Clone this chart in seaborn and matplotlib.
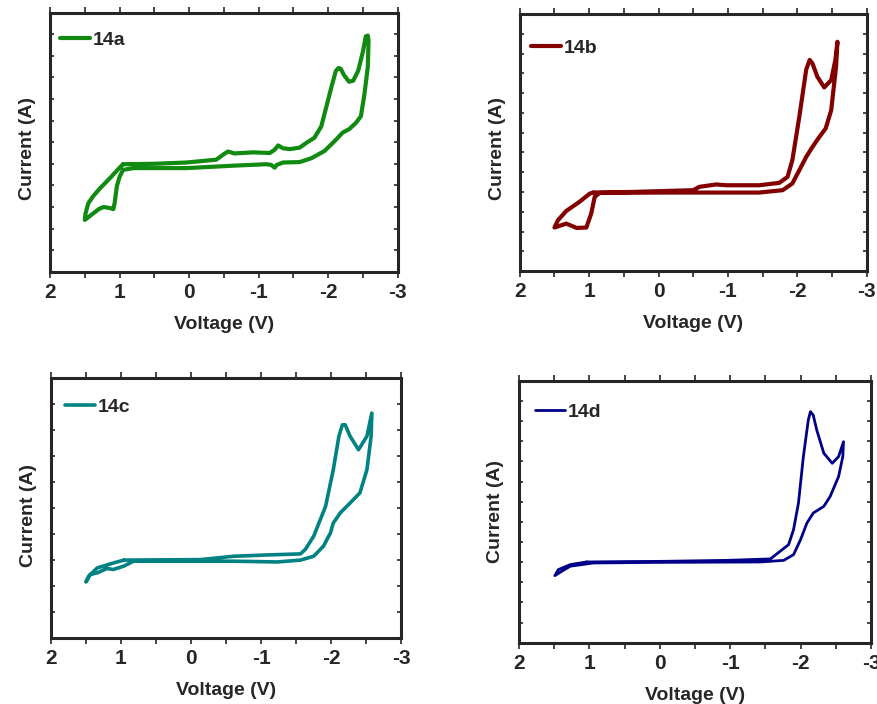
import numpy as np
import pandas as pd
import matplotlib
matplotlib.use('Agg')
import matplotlib.pyplot as plt
import seaborn as sns
from matplotlib.ticker import MultipleLocator, NullFormatter

# -------------------------
# Data
# -------------------------
# each CV is one closed loop: forward scan to -2.6 V, back to +1.5 V, back to start

v_14a = [0.95, 0.50, 0.04, -0.39, -0.50, -0.56, -0.65, -0.92, -1.16, -1.23,
         -1.28, -1.35, -1.45, -1.59, -1.70, -1.80, -1.90, -1.97, -2.05, -2.11,
         -2.15, -2.18, -2.23, -2.30, -2.36, -2.43, -2.50, -2.54, -2.57, -2.58,
         -2.57, -2.52, -2.47, -2.40, -2.30, -2.21, -2.11, -1.95, -1.76, -1.59,
         -1.35, -1.26, -1.23, -1.18, -1.11, -0.68, 0.04, 0.80, 0.95, 1.00,
         1.04, 1.07, 1.09, 1.14, 1.23, 1.30, 1.40, 1.50, 1.49, 1.45, 1.38,
         1.28, 1.14, 1.02, 0.95]
i_14a = [4.98, 5.00, 5.06, 5.19, 5.45, 5.57, 5.48, 5.53, 5.50, 5.65,
         5.85, 5.72, 5.68, 5.75, 6.00, 6.20, 6.73, 7.60, 8.60, 9.30,
         9.44, 9.40, 9.10, 8.80, 8.85, 9.30, 10.20, 10.90, 10.94, 10.70,
         9.50, 8.20, 7.20, 6.90, 6.60, 6.45, 6.11, 5.60, 5.26, 5.08,
         5.06, 4.95, 4.82, 4.95, 4.98, 4.92, 4.80, 4.80, 4.72, 4.40,
         3.95, 3.20, 2.90, 2.95, 3.00, 2.90, 2.65, 2.40, 2.70, 3.17, 3.50,
         3.87, 4.33, 4.75, 4.98]

v_14b = [0.94, 0.40, -0.50, -0.59, -0.83, -0.98, -1.45, -1.74, -1.86, -1.93,
         -2.03, -2.13, -2.18, -2.22, -2.29, -2.39, -2.49, -2.55, -2.58,
         -2.56, -2.49, -2.41, -2.32, -2.22, -2.13, -2.03, -1.93, -1.79, -1.45,
         -0.02, 0.85, 0.92, 0.97, 1.04, 1.18, 1.33, 1.50, 1.45, 1.33, 1.14,
         0.99, 0.94]
i_14b = [3.97, 4.00, 4.09, 4.26, 4.38, 4.34, 4.34, 4.46, 4.76, 5.61,
         7.80, 10.20, 10.68, 10.50, 9.83, 9.29, 9.66, 10.68, 11.60,
         10.34, 8.14, 7.21, 6.79, 6.28, 5.78, 5.10, 4.43, 4.09, 3.97,
         3.97, 3.95, 3.75, 2.91, 2.20, 2.18, 2.40, 2.20, 2.57, 3.04, 3.50,
         3.92, 3.97]

v_14c = [0.96, 0.50, -0.13, -0.61, -1.08, -1.56, -1.63, -1.75, -1.92, -2.03,
         -2.11, -2.16, -2.20, -2.27, -2.39, -2.51, -2.58,
         -2.57, -2.51, -2.41, -2.27, -2.13, -2.03, -1.99, -1.89, -1.75, -1.56,
         -1.23, -0.61, 0.01, 0.82, 0.96, 1.11, 1.20, 1.34, 1.44, 1.50, 1.46,
         1.34, 1.11, 0.96]
i_14c = [2.99, 3.00, 3.01, 3.14, 3.19, 3.23, 3.40, 3.91, 5.06, 6.47,
         7.76, 8.20, 8.20, 7.76, 7.24, 7.76, 8.65,
         7.76, 6.47, 5.58, 5.19, 4.81, 4.42, 4.04, 3.53, 3.14, 2.99,
         2.92, 2.95, 2.95, 2.95, 2.76, 2.63, 2.67, 2.50, 2.44, 2.15, 2.37,
         2.69, 2.88, 2.99]

v_14d = [1.04, 0.50, -0.005, -0.95, -1.57, -1.71, -1.83, -1.90, -1.97, -2.04,
         -2.11, -2.14, -2.18, -2.23, -2.33, -2.45, -2.54, -2.61,
         -2.60, -2.54, -2.42, -2.33, -2.18, -2.09, -2.00, -1.90, -1.76, -1.43,
         -0.005, 0.94, 1.27, 1.39, 1.49, 1.44, 1.27, 1.04]
i_14d = [4.01, 4.03, 4.04, 4.09, 4.16, 4.54, 4.87, 5.61, 6.93, 9.24,
         11.06, 11.47, 11.30, 10.56, 9.41, 8.91, 9.24, 9.98,
         9.24, 8.25, 7.26, 6.77, 6.44, 5.94, 5.12, 4.37, 4.09, 4.01,
         3.99, 3.96, 3.80, 3.55, 3.33, 3.63, 3.88, 4.01]

names = ['14a', '14b', '14c', '14d']
colors = ['#118a11', '#820000', '#008282', '#000088']
volts = [v_14a, v_14b, v_14c, v_14d]
currents = [i_14a, i_14b, i_14c, i_14d]
y_tops = [12, 13, 10, 13]
widths = [3.0, 3.0, 2.6, 2.0]

# axes boxes in figure fraction [left, bottom, width, height]
boxes = [[0.057, 0.614, 0.396, 0.368],
         [0.592, 0.615, 0.395, 0.365],
         [0.058, 0.094, 0.399, 0.369],
         [0.591, 0.087, 0.401, 0.372]]
ylab_y = [0.475, 0.475, 0.47, 0.50]
leg_anchor = [(0.029, 0.927), (0.032, 0.902), (0.040, 0.923), (0.045, 0.915)]

sns.set_style('ticks')
plt.rcParams['font.family'] = ['Liberation Sans', 'DejaVu Sans']
plt.rcParams['font.weight'] = 'bold'
plt.rcParams['axes.unicode_minus'] = False

fig = plt.figure(figsize=(8.78, 7.04), dpi=100)

for k in range(4):
    ax = fig.add_axes(boxes[k])
    df = pd.DataFrame({'Voltage': volts[k], 'Current': currents[k]})
    sns.lineplot(data=df, x='Voltage', y='Current', sort=False,
                 estimator=None, color=colors[k], lw=widths[k],
                 label=names[k], ax=ax)
    ax.set_xlim(2, -3)
    ax.set_ylim(0, y_tops[k])
    ax.xaxis.set_major_locator(MultipleLocator(1))
    ax.xaxis.set_minor_locator(MultipleLocator(0.5))
    ax.yaxis.set_major_locator(MultipleLocator(1))
    ax.yaxis.set_major_formatter(NullFormatter())
    ax.tick_params(axis='x', which='both', direction='out', top=True,
                   length=4, width=1.2, labelsize=15, pad=4)
    ax.tick_params(axis='y', which='both', direction='in', right=True,
                   length=3, width=1.2)
    for sp in ax.spines.values():
        sp.set_linewidth(2.2)
        sp.set_visible(True)
    for lab in ax.get_xticklabels():
        lab.set_fontweight('bold')
    ax.set_xlabel('Voltage (V)', fontsize=14, fontweight='bold', labelpad=10)
    ax.set_ylabel('Current (A)', fontsize=14, fontweight='bold')
    ax.yaxis.set_label_coords(-0.041, ylab_y[k])
    leg = ax.legend(loc='upper left', bbox_to_anchor=leg_anchor[k],
                    frameon=False, fontsize=14, handlelength=1.55,
                    handletextpad=0.15, borderaxespad=0, borderpad=0)
    for t in leg.get_texts():
        t.set_fontweight('bold')

plt.savefig('out.png', dpi=100)
